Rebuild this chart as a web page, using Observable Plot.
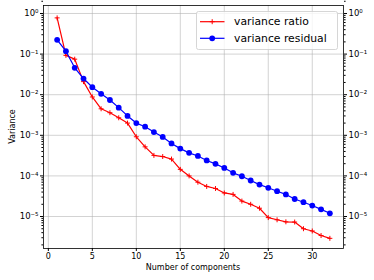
<!DOCTYPE html>
<html><head><meta charset="utf-8">
<script src="https://cdn.jsdelivr.net/npm/d3@7"></script>
<script src="https://cdn.jsdelivr.net/npm/@observablehq/plot@0.6"></script>
<style>html,body{margin:0;padding:0;background:#fff}svg{display:block}</style>
</head><body><div id="chart"></div>
<script>
const components = [1,2,3,4,5,6,7,8,9,10,11,12,13,14,15,16,17,18,19,20,21,22,23,24,25,26,27,28,29,30,31,32];
const varianceRatio = [0.78,0.093,0.075,0.021,0.0088,0.0045,0.0036,0.0027,0.0020,0.00092,0.00052,0.00032,0.00030,0.00026,0.000145,0.000100,0.000070,0.000055,0.000049,0.000038,0.000035,0.000024,0.000020,0.000016,0.0000094,0.0000083,0.0000074,0.0000073,0.0000050,0.0000044,0.0000034,0.0000029];
const varianceResidual = [0.225,0.118,0.046,0.025,0.0153,0.0105,0.0074,0.0048,0.0030,0.0020,0.00163,0.00120,0.00091,0.00063,0.00047,0.00037,0.00031,0.00024,0.000198,0.000157,0.000119,0.000098,0.000077,0.000061,0.000051,0.000042,0.000035,0.000027,0.0000225,0.0000186,0.0000150,0.0000120];
const seriesNames = ["variance ratio", "variance residual"];
const seriesColors = ["#ff0000", "#0000ff"];
const xTicks = [0,5,10,15,20,25,30];
const yTicks = [1,1e-1,1e-2,1e-3,1e-4,1e-5];
const xLabel = "Number of components";
const yLabel = "Variance";

const yMinor = [];
for (let k = -6; k <= 0; k++) for (let m = 2; m <= 9; m++) yMinor.push(m * Math.pow(10, k));

const rows = components.map((c, i) => ({c, ratio: varianceRatio[i], resid: varianceResidual[i]}));
const sup = {"0":"⁰","1":"¹","2":"²","3":"³","4":"⁴","5":"⁵","6":"⁶","-":"⁻"};
const fmt = d => "10" + String(Math.round(Math.log10(d))).split("").map(ch => sup[ch]).join("");
const plusSymbol = {draw(ctx, size){ const r = Math.sqrt(size) / 2; ctx.moveTo(-r,0); ctx.lineTo(r,0); ctx.moveTo(0,-r); ctx.lineTo(0,r); }};

const W = 374, H = 280;
const chart = Plot.plot({
  width: W, height: H,
  marginLeft: 43, marginRight: 31, marginTop: 5, marginBottom: 32,
  style: {fontFamily: "DejaVu Sans", fontSize: "8px", color: "black", background: "white"},
  x: {domain: [-0.55, 33.55], axis: null},
  y: {type: "log", domain: [Math.pow(10, -5.788), Math.pow(10, 0.197)], axis: null},
  marks: [
    Plot.gridX(xTicks, {stroke: "#b0b0b0", strokeOpacity: 0.7, strokeWidth: 0.8}),
    Plot.gridY(yTicks, {stroke: "#b0b0b0", strokeOpacity: 0.7, strokeWidth: 0.8}),
    Plot.axisX({ticks: xTicks, tickSize: 3, tickPadding: 2, label: null}),
    Plot.axisY({ticks: yTicks, tickSize: 3, tickPadding: 2, tickFormat: fmt, label: null, fontSize: 8.5}),
    Plot.axisY({ticks: yMinor, tickSize: 1.6, tickFormat: () => "", label: null}),
    Plot.axisY({anchor: "right", ticks: yTicks, tickSize: 3, tickPadding: 2, tickFormat: fmt, label: null, fontSize: 8.5}),
    Plot.axisY({anchor: "right", ticks: yMinor, tickSize: 1.6, tickFormat: () => "", label: null}),
    Plot.line(rows, {x: "c", y: "ratio", stroke: seriesColors[0], strokeWidth: 1.2}),
    Plot.dot(rows, {x: "c", y: "ratio", symbol: plusSymbol, r: 2.8, stroke: seriesColors[0], fill: "none", strokeWidth: 1}),
    Plot.line(rows, {x: "c", y: "resid", stroke: seriesColors[1], strokeWidth: 1.2}),
    Plot.dot(rows, {x: "c", y: "resid", r: 2.9, fill: seriesColors[1], stroke: "none"}),
    Plot.frame({stroke: "black", strokeWidth: 0.8})
  ]
});
document.getElementById("chart").appendChild(chart);

const svg = d3.select(chart);
svg.append("text").attr("x", 193).attr("y", 270).attr("text-anchor", "middle")
  .attr("font-family", "DejaVu Sans").attr("font-size", 8).attr("fill", "black").text(xLabel);
svg.append("text").attr("transform", "translate(12,126.5) rotate(-90)").attr("text-anchor", "middle")
  .attr("dominant-baseline", "middle")
  .attr("font-family", "DejaVu Sans").attr("font-size", 8).attr("fill", "black").text(yLabel);

const lg = svg.append("g");
lg.append("rect").attr("x", 196.5).attr("y", 11.5).attr("width", 141).attr("height", 38).attr("rx", 2)
  .attr("fill", "white").attr("fill-opacity", 0.8).attr("stroke", "#cccccc").attr("stroke-width", 0.8);
seriesNames.forEach((name, i) => {
  const y = 21.7 + i * 16.6;
  lg.append("line").attr("x1", 200).attr("x2", 224.5).attr("y1", y).attr("y2", y)
    .attr("stroke", seriesColors[i]).attr("stroke-width", 1.2);
  if (i === 0) {
    lg.append("path").attr("d", `M${212.2-2.5},${y}H${212.2+2.5}M212.2,${y-2.5}V${y+2.5}`)
      .attr("stroke", seriesColors[i]).attr("stroke-width", 1).attr("fill", "none");
  } else {
    lg.append("circle").attr("cx", 212.2).attr("cy", y).attr("r", 2.9).attr("fill", seriesColors[i]);
  }
  lg.append("text").attr("x", 234).attr("y", y).attr("dominant-baseline", "central").attr("text-anchor", "start")
    .attr("font-family", "DejaVu Sans").attr("font-size", 10.8).attr("fill", "black").text(name);
});
</script>
</body></html>
